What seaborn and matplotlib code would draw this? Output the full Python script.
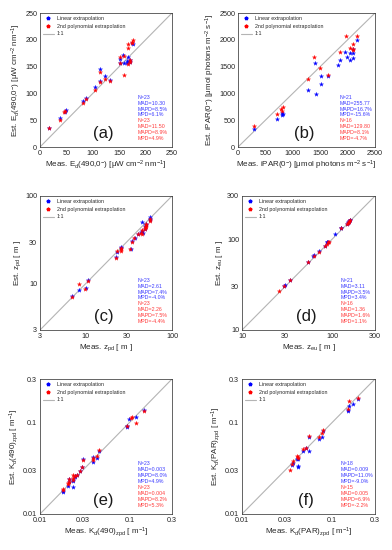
import numpy as np
import pandas as pd
import matplotlib
matplotlib.use("Agg")
import matplotlib.pyplot as plt
import seaborn as sns
from matplotlib.lines import Line2D
from matplotlib.ticker import FixedLocator, NullLocator, FixedFormatter

sns.set_style("white")
plt.rcParams['font.family'] = ['Liberation Sans', 'DejaVu Sans']
plt.rcParams['mathtext.fontset'] = 'custom'
plt.rcParams['mathtext.rm'] = 'Liberation Sans'
plt.rcParams['mathtext.it'] = 'Liberation Sans:italic'
plt.rcParams['mathtext.default'] = 'regular'

# ---------------- data ----------------
# (a) Ed(490,0-)
a_meas_lin = [17, 38, 47, 48.5, 80.5, 87, 105, 113, 113, 123, 133, 152, 152, 160, 165, 167, 169, 171, 175, 177, 164, 170, 158]
a_est_lin = [36, 54, 65, 69, 86, 92, 112, 146, 123, 132, 125, 164, 157, 156, 160, 168, 160, 162, 194, 192, 157, 158, 171]
a_meas_poly = [17, 38, 46, 48, 80.5, 87, 105, 113, 113, 123, 133, 152, 152, 160, 159, 166, 167, 167, 171, 170, 175, 176, 174]
a_est_poly = [36, 51, 66, 68, 82.5, 89, 107, 140, 122, 127, 124, 167, 156, 135, 170, 192, 184, 155, 162, 158, 196, 200, 194]

# (b) iPAR(0-)
b_meas_lin = [289, 711, 795, 805, 814, 1277, 1398, 1416, 1506, 1506, 1639, 1819, 1867, 1958, 1982, 2042, 2042, 2090, 2090, 2090, 2163]
b_est_lin = [344, 531, 600, 640, 620, 1062, 1562, 981, 1325, 1181, 1325, 1531, 1619, 1769, 1687, 1625, 1762, 1656, 1762, 1825, 1987]
b_meas_poly = [289, 717, 777, 813, 800, 1277, 1392, 1500, 1639, 1867, 1964, 2042, 2090, 2090, 2096, 2169]
b_est_poly = [387, 612, 712, 750, 670, 1275, 1675, 1469, 1337, 1775, 2075, 1856, 1812, 1837, 1925, 2075]

# (c) zpd
c_meas_lin = [7.1, 8.5, 10.3, 10.6, 22.8, 23.5, 25.9, 26, 33.3, 35, 37, 40.5, 43.5, 44.5, 44.5, 46, 48.8, 49, 49.5, 50, 55.5, 56.3, 56]
c_est_lin = [7.3, 8.6, 8.95, 11.2, 20.4, 23.3, 25.5, 26.3, 25.2, 30.5, 33.5, 37.4, 38.6, 50.6, 40.5, 38, 42, 45.3, 46.9, 48.2, 53, 57.1, 55]
c_meas_poly = [7.1, 8.5, 9.9, 10.6, 22.8, 23.5, 25.9, 26, 33, 34.9, 36.8, 40.5, 43.5, 44.5, 45.5, 48.8, 49, 49.5, 50, 50.5, 55.3, 56.3, 26]
c_est_poly = [7.2, 9.9, 8.83, 10.85, 19.9, 24.0, 24.0, 25.3, 24.7, 30.2, 33.7, 37.2, 38.4, 41.4, 37.1, 42.2, 45, 46.5, 44, 48, 52.4, 54.7, 25.5]

# (d) zeu
d_meas_lin = [29.6, 29.8, 34.5, 63, 62, 88, 89, 90, 107.5, 126, 127, 147, 150, 153, 155, 158, 160, 71, 84, 53.6, 149]
d_est_lin = [30.5, 31.2, 35.8, 66.8, 65, 94.4, 93, 94, 113.7, 134.6, 133, 149, 154, 157, 160, 162, 165, 74, 85, 55.5, 152]
d_meas_poly = [25.6, 29.6, 34.5, 53.6, 63, 71, 84, 88, 90, 92, 126, 147, 150, 153, 156, 159]
d_est_poly = [26.6, 30.2, 35.8, 55.5, 64.6, 73.3, 84.6, 88.3, 93, 93, 132, 149, 153, 157, 161, 164]

# (e) Kd(490)zpd
e_meas_lin = [0.0182, 0.0182, 0.0204, 0.0209, 0.0212, 0.0232, 0.0232, 0.0232, 0.0246, 0.0257, 0.0280, 0.0294, 0.0304,
              0.0387, 0.0394, 0.0429, 0.0452, 0.0943, 0.0943, 0.0993, 0.119, 0.1448, 0.0246]
e_est_lin = [0.0176, 0.018, 0.0205, 0.0242, 0.0222, 0.0196, 0.0236, 0.023, 0.0257, 0.0268, 0.0299, 0.0325, 0.0398,
             0.0375, 0.0418, 0.0412, 0.0483, 0.0908, 0.0885, 0.110, 0.114, 0.138, 0.026]
e_meas_poly = [0.0182, 0.0182, 0.0204, 0.0205, 0.0212, 0.0209, 0.0232, 0.0232, 0.0232, 0.0246, 0.0257, 0.0280, 0.0294,
               0.0304, 0.0387, 0.0394, 0.0429, 0.0452, 0.0943, 0.1036, 0.107, 0.120, 0.1448]
e_est_poly = [0.0188, 0.0182, 0.0212, 0.0219, 0.0224, 0.0244, 0.0246, 0.0268, 0.0236, 0.026, 0.0268, 0.0299, 0.0325,
              0.0391, 0.0388, 0.0408, 0.043, 0.0504, 0.0923, 0.112, 0.114, 0.100, 0.135]

# (f) Kd(PAR)zpd
f_meas_lin = [0.0357, 0.0366, 0.0412, 0.0423, 0.0423, 0.0472, 0.0514, 0.0559, 0.0559, 0.0709, 0.0766, 0.0799,
              0.1496, 0.1496, 0.156, 0.171, 0.1946, 0.0418]
f_est_lin = [0.0345, 0.036, 0.0398, 0.0325, 0.0339, 0.049, 0.0534, 0.0491, 0.0688, 0.0654, 0.0693, 0.080,
             0.1326, 0.138, 0.153, 0.161, 0.181, 0.040]
f_meas_poly = [0.0342, 0.0357, 0.0366, 0.0412, 0.0423, 0.0472, 0.0514, 0.0559, 0.0709, 0.0766, 0.0799, 0.1496,
               0.156, 0.1946, 0.0418]
f_est_poly = [0.030, 0.0353, 0.0381, 0.0433, 0.042, 0.0512, 0.0534, 0.0711, 0.0688, 0.0767, 0.082, 0.142,
              0.171, 0.186, 0.0415]

# statistics text
stats_lin = {
    'a': ["N=23", "MAD=10.30", "MAPD=8.5%", "MPD=6.1%"],
    'b': ["N=21", "MAD=255.77", "MAPD=16.7%", "MPD=-15.6%"],
    'c': ["N=23", "MAD=2.61", "MAPD=7.4%", "MPD=-4.0%"],
    'd': ["N=21", "MAD=3.11", "MAPD=3.5%", "MPD=3.4%"],
    'e': ["N=23", "MAD=0.003", "MAPD=8.0%", "MPD=4.9%"],
    'f': ["N=18", "MAD=0.009", "MAPD=11.0%", "MPD=-9.0%"],
}
stats_poly = {
    'a': ["N=23", "MAD=11.50", "MAPD=8.9%", "MPD=4.9%"],
    'b': ["N=16", "MAD=129.80", "MAPD=8.1%", "MPD=-4.7%"],
    'c': ["N=23", "MAD=2.26", "MAPD=7.5%", "MPD=-4.4%"],
    'd': ["N=16", "MAD=1.36", "MAPD=1.6%", "MPD=1.1%"],
    'e': ["N=23", "MAD=0.004", "MAPD=8.2%", "MPD=5.3%"],
    'f': ["N=15", "MAD=0.005", "MAPD=6.9%", "MPD=-2.2%"],
}

xlabels = {
    'a': r"Meas. E$_\mathrm{d}$(490,0$^{\mathrm{-}}$) [μW cm$^{-2}$ nm$^{-1}$]",
    'b': r"Meas. iPAR(0$^{\mathrm{-}}$) [μmol photons m$^{-2}$ s$^{-1}$]",
    'c': r"Meas. z$_\mathrm{pd}$ [ m ]",
    'd': r"Meas. z$_\mathrm{eu}$ [ m ]",
    'e': r"Meas. K$_\mathrm{d}$(490)$_\mathrm{zpd}$ [ m$^{-1}$]",
    'f': r"Meas. K$_\mathrm{d}$(PAR)$_\mathrm{zpd}$ [ m$^{-1}$]",
}
ylabels = {
    'a': r"Est. E$_\mathrm{d}$(490,0$^{\mathrm{-}}$) [μW cm$^{-2}$ nm$^{-1}$]",
    'b': r"Est. iPAR(0$^{\mathrm{-}}$) [μmol photons m$^{-2}$ s$^{-1}$]",
    'c': r"Est. z$_\mathrm{pd}$ [ m ]",
    'd': r"Est. z$_\mathrm{eu}$ [ m ]",
    'e': r"Est. K$_\mathrm{d}$(490)$_\mathrm{zpd}$ [ m$^{-1}$]",
    'f': r"Est. K$_\mathrm{d}$(PAR)$_\mathrm{zpd}$ [ m$^{-1}$]",
}
ticks = {
    'a': [0, 50, 100, 150, 200, 250],
    'b': [0, 500, 1000, 1500, 2000, 2500],
    'c': [3, 10, 30, 100],
    'd': [10, 30, 100, 300],
    'e': [0.01, 0.03, 0.1, 0.3],
    'f': [0.01, 0.03, 0.1, 0.3],
}
tick_labels = {
    'a': ["0", "50", "100", "150", "200", "250"],
    'b': ["0", "500", "1000", "1500", "2000", "2500"],
    'c': ["3", "10", "30", "100"],
    'd': ["10", "30", "100", "300"],
    'e': ["0.01", "0.03", "0.1", "0.3"],
    'f': ["0.01", "0.03", "0.1", "0.3"],
}
log_panels = {'c', 'd', 'e', 'f'}

data = {
    'a': (a_meas_lin, a_est_lin, a_meas_poly, a_est_poly),
    'b': (b_meas_lin, b_est_lin, b_meas_poly, b_est_poly),
    'c': (c_meas_lin, c_est_lin, c_meas_poly, c_est_poly),
    'd': (d_meas_lin, d_est_lin, d_meas_poly, d_est_poly),
    'e': (e_meas_lin, e_est_lin, e_meas_poly, e_est_poly),
    'f': (f_meas_lin, f_est_lin, f_meas_poly, f_est_poly),
}

W, H = 392, 550
positions = {
    'a': [40, 13, 172, 147],
    'b': [238, 13, 375, 147],
    'c': [40, 196, 172, 330],
    'd': [242, 196, 375, 330],
    'e': [40, 379, 172, 514],
    'f': [242, 379, 375, 514],
}

fig = plt.figure(figsize=(W / 100, H / 100), dpi=100)
BLUE = '#0000ff'
RED = '#ff0000'
TICK_FS = 5.2
LAB_FS = 5.8
SMALL_FS = 3.8

for key in ['a', 'b', 'c', 'd', 'e', 'f']:
    x0, y0, x1, y1 = positions[key]
    ax = fig.add_axes([x0 / W, 1 - y1 / H, (x1 - x0) / W, (y1 - y0) / H])
    ml, el, mp, ep = data[key]
    df_lin = pd.DataFrame({'meas': ml, 'est': el})
    df_poly = pd.DataFrame({'meas': mp, 'est': ep})
    tk = ticks[key]
    lo, hi = tk[0], tk[-1]
    if key in log_panels:
        ax.set_xscale('log')
        ax.set_yscale('log')
    ax.plot([lo, hi], [lo, hi], color='#b4b4b4', lw=0.8, zorder=1)
    sns.scatterplot(data=df_lin, x='meas', y='est', ax=ax, marker='*', s=10,
                    color=BLUE, edgecolor=BLUE, linewidth=0.2, zorder=3)
    sns.scatterplot(data=df_poly, x='meas', y='est', ax=ax, marker='*', s=10,
                    color=RED, edgecolor=RED, linewidth=0.2, zorder=4)
    ax.set_xlim(lo, hi)
    ax.set_ylim(lo, hi)
    ax.xaxis.set_major_locator(FixedLocator(tk))
    ax.yaxis.set_major_locator(FixedLocator(tk))
    ax.xaxis.set_major_formatter(FixedFormatter(tick_labels[key]))
    ax.yaxis.set_major_formatter(FixedFormatter(tick_labels[key]))
    ax.xaxis.set_minor_locator(NullLocator())
    ax.yaxis.set_minor_locator(NullLocator())
    ax.tick_params(axis='both', which='major', direction='in', length=2, width=0.4,
                   labelsize=TICK_FS, pad=2, colors='#262626', labelcolor='#262626')
    for sp in ax.spines.values():
        sp.set_linewidth(0.5)
        sp.set_color('#262626')
    ax.set_xlabel(xlabels[key], fontsize=LAB_FS, labelpad=1.5, color='#262626')
    ax.set_ylabel(ylabels[key], fontsize=LAB_FS, labelpad=1.5, color='#262626')

    handles = [
        Line2D([], [], marker='*', color=BLUE, linestyle='none', markersize=2.6),
        Line2D([], [], marker='*', color=RED, linestyle='none', markersize=2.6),
        Line2D([], [], color='#b4b4b4', lw=0.8),
    ]
    ax.legend(handles, ["Linear extrapolation", "2nd polynomial extrapolation", "1:1"],
              loc='upper left', frameon=False, fontsize=SMALL_FS, handlelength=2.0,
              handletextpad=0.6, labelspacing=0.5, borderaxespad=0.3, borderpad=0.3)

    for i, s in enumerate(stats_lin[key]):
        ax.text(0.74, 0.39 - i * 0.044, s, transform=ax.transAxes, color='#3b3bff',
                fontsize=SMALL_FS, va='top', ha='left')
    for i, s in enumerate(stats_poly[key]):
        ax.text(0.74, 0.39 - (i + 4) * 0.044, s, transform=ax.transAxes, color='#ff3b3b',
                fontsize=SMALL_FS, va='top', ha='left')
    ax.text(0.48, 0.1, f"({key})", transform=ax.transAxes, fontsize=12,
            ha='center', va='center', color='#1a1a1a')

fig.savefig("out.png", dpi=100)
